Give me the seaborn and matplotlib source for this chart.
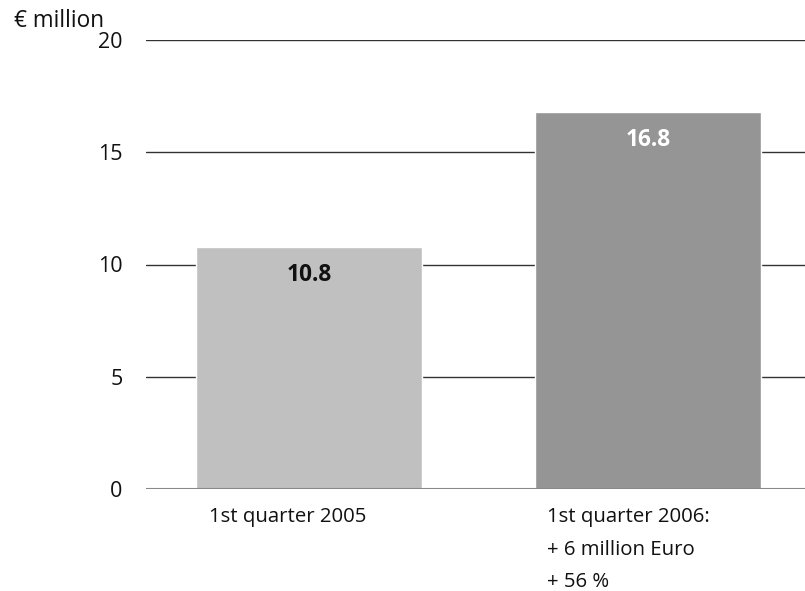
import matplotlib
matplotlib.use("Agg")
import matplotlib.pyplot as plt
import seaborn as sns
import pandas as pd

categories = ["1st quarter 2005", "1st quarter 2006:\n+ 6 million Euro\n+ 56 %"]
values = [10.8, 16.8]
value_labels = ["10.8", "16.8"]
bar_colors = ["#c0c0c0", "#959595"]
label_colors = ["#111111", "#ffffff"]
yticks = [0, 5, 10, 15, 20]

sns.set_theme(style="white")
plt.rcParams["font.family"] = ["Open Sans", "DejaVu Sans"]

fig = plt.figure(figsize=(8.05, 5.91), dpi=100)
ax = fig.add_axes([146/805, 102/591, 659/805, 449/591])

df = pd.DataFrame({"cat": categories, "val": values})
sns.barplot(data=df, x="cat", y="val", hue="cat", palette=bar_colors,
            width=0.667, legend=False, ax=ax, zorder=3, saturation=1)

ax.set_ylim(0, 20)
ax.set_xlim(-0.481, 1.463)
ax.set_yticks(yticks)
ax.set_yticklabels([str(t) for t in yticks], fontsize=15.5, color="#111111")
for t in yticks[1:]:
    ax.axhline(t, color="#333333", lw=1, zorder=1)
ax.axhline(0, color="#888888", lw=1.5, zorder=4)
for s in ax.spines.values():
    s.set_visible(False)
ax.tick_params(axis="y", length=0, pad=17)
ax.set_xticks([])
ax.set_xlabel("")
ax.set_ylabel("")

# value labels
for i, p in enumerate(ax.patches):
    cx = p.get_x() + p.get_width() / 2
    ax.annotate(value_labels[i], (cx, p.get_height()), xytext=(0, -20.5),
                textcoords="offset points", ha="center", va="center",
                fontsize=16.3, fontweight="bold", color=label_colors[i])
    # category labels, left aligned near bar's left edge
    ax.annotate(categories[i], (p.get_x(), 0), xytext=(9, -13),
                textcoords="offset points", ha="left", va="top",
                fontsize=14.7, color="#111111", linespacing=1.84,
                annotation_clip=False)

fig.text(14/805, 1 - 21/591, "€ million", fontsize=16.3, ha="left", va="center",
         color="#111111")

fig.savefig("out.png", dpi=100)
